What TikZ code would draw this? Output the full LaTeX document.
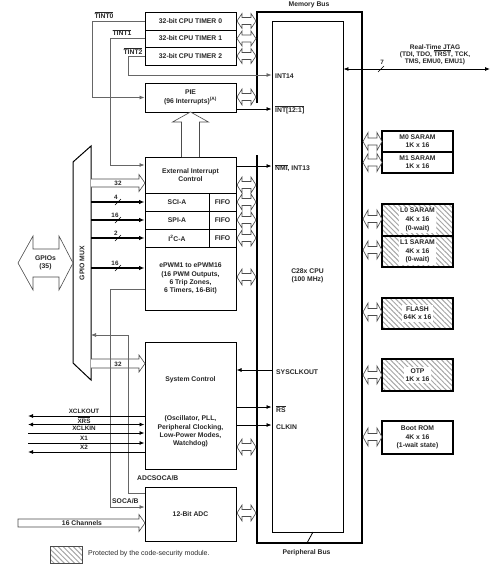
\documentclass[tikz,border=0pt]{standalone}
\usepackage{fontspec}
\setmainfont{Liberation Sans}
\usetikzlibrary{arrows.meta,patterns.meta}
\newcommand\ovl[1]{\ensuremath{\overline{\mbox{#1}}}}
% hollow double arrow: x1 x2 y headhalf
\newcommand\hdarrow[4]{\draw[hollow] (#1,#3) -- (#1+5,#3-#4) -- (#1+5,#3-3.5) -- (#2-5,#3-3.5) -- (#2-5,#3-#4) -- (#2,#3) -- (#2-5,#3+#4) -- (#2-5,#3+3.5) -- (#1+5,#3+3.5) -- (#1+5,#3+#4) -- cycle;}
% hollow single arrow, open tail: x1 x2 y half headhalf
\newcommand\hsarrow[5]{\draw[hollow] (#1,#3-#4) -- (#2-6,#3-#4) -- (#2-6,#3-#5) -- (#2,#3) -- (#2-6,#3+#5) -- (#2-6,#3+#4) -- (#1,#3+#4);}
\begin{document}
\begin{tikzpicture}[x=1pt,y=-1pt,
  every node/.style={font=\bfseries\fontsize{6.8}{8.2}\selectfont, text=black!85, inner sep=0pt},
  box/.style={draw=black, line width=1pt, fill=white, minimum width=91pt},
  mem/.style={draw=black, line width=1.1pt, minimum width=71pt, align=center},
  hatched/.style={pattern={Lines[angle=-45,distance=3.6pt,line width=1pt]}, pattern color=black!35},
  hollow/.style={draw=black!70, line width=0.6pt, fill=white},
  gline/.style={draw=black!60, line width=0.7pt},
  arr/.style={-{Latex[length=5pt,width=4pt]}},
  sig/.style={draw=black, line width=0.8pt, -{Latex[length=5pt,width=4pt]}},
  thk/.style={draw=black, line width=1.3pt, -{Latex[length=5.5pt,width=4.5pt]}},
  busline/.style={draw=black, line width=1.8pt},
  small/.style={font=\bfseries\fontsize{6.3}{7}\selectfont},
]
\useasboundingbox (0,0) rectangle (500,565);

% ---- bus frame and CPU
\draw[busline] (257,103) -- (257,12) -- (362,12) -- (362,543) -- (257,543) -- (257,155);
\draw[line width=0.8pt] (307,543) -- (313,532);
\node (membus) at (309,5) {Memory Bus};
\node (perbus) at (306.5,553) {Peripheral Bus};
\node[draw=black, line width=0.9pt, minimum width=71pt, minimum height=511pt] (cpu) at (307.5,276.5) {};
\node[align=center] (cpulbl) at (307.5,276) {C28x CPU\\(100 MHz)};
\node[anchor=west] (int14) at (275,76) {INT14};
\node[anchor=west] (int121) at (275,110) {\ovl{INT[12:1]}};
\node[anchor=west] (nmi) at (275,168) {\ovl{NMI}, INT13};
\node[anchor=west] (sysclk) at (276,372) {SYSCLKOUT};
\node[anchor=west] (rs) at (276,409) {\ovl{RS}};
\node[anchor=west] (clkin) at (276,427) {CLKIN};

% ---- peripherals
\node[box, minimum height=18pt] (t0) at (190.5,21) {32-bit CPU TIMER 0};
\node[box, minimum height=17pt] (t1) at (190.5,38.5) {32-bit CPU TIMER 1};
\node[box, minimum height=18pt] (t2) at (190.5,56) {32-bit CPU TIMER 2};
\node[box, minimum height=29pt, align=center] (pie) at (190.5,97.5) {PIE\\[0.8pt](96 Interrupts)\textsuperscript{(A)}};
\node[box, minimum height=36pt, align=center] (eic) at (190.5,175) {External Interrupt\\Control};
\node[box, minimum width=64pt, minimum height=18pt] (sci) at (177,202) {SCI-A};
\node[box, minimum width=27pt, minimum height=18pt] (fifo1) at (222.5,202) {FIFO};
\node[box, minimum width=64pt, minimum height=18pt] (spi) at (177,220) {SPI-A};
\node[box, minimum width=27pt, minimum height=18pt] (fifo2) at (222.5,220) {FIFO};
\node[box, minimum width=64pt, minimum height=18pt] (i2c) at (177,238) {I\textsuperscript{2}C-A};
\node[box, minimum width=27pt, minimum height=18pt] (fifo3) at (222.5,238) {FIFO};
\node[box, minimum height=63pt, align=center] (epwm) at (190.5,278.5) {ePWM1 to ePWM16\\(16 PWM Outputs,\\6 Trip Zones,\\6 Timers, 16-Bit)};
\node[box, minimum height=127pt] (sys) at (190.5,405.5) {};
\node (systitle) at (190.5,380) {System Control};
\node[align=center] (sysdesc) at (190.5,431.5) {(Oscillator, PLL,\\Peripheral Clocking,\\Low-Power Modes,\\Watchdog)};
\node[box, minimum height=54pt] (adc) at (190.5,514) {12-Bit ADC};

% ---- PIE hollow up arrow
\draw[hollow] (181.5,157) -- (181.5,122) -- (172.5,122) -- (190.5,112) -- (208.5,122) -- (199.5,122) -- (199.5,157);

% ---- bus double arrows (left)
\hdarrow{237}{256}{21}{7.5}
\hdarrow{237}{256}{38.5}{7.5}
\hdarrow{237}{256}{56}{7.5}
\hdarrow{237}{256}{97}{8}
\hdarrow{237}{256}{185}{8}
\hdarrow{237}{256}{202}{8}
\hdarrow{237}{256}{220}{8}
\hdarrow{237}{256}{238}{8}
\hdarrow{237}{256}{277}{8}
\hdarrow{237}{256}{447}{8}
\hdarrow{237}{256}{513}{8}

% ---- memories
\node[mem, minimum height=21pt] (m0) at (417.5,141.5) {M0 SARAM\\1K x 16};
\node[mem, minimum height=21pt] (m1) at (417.5,162.5) {M1 SARAM\\1K x 16};
\node[mem, hatched, minimum height=32pt] (l0) at (417.5,220) {};
\node[fill=white, inner sep=1.5pt, align=center, font=\bfseries\fontsize{6.8}{8.8}\selectfont] (l0t) at (l0) {L0 SARAM\\4K x 16\\(0-wait)};
\node[mem, hatched, minimum height=31pt] (l1) at (417.5,251.5) {};
\node[fill=white, inner sep=1.5pt, align=center, font=\bfseries\fontsize{6.8}{8.8}\selectfont] (l1t) at (l1) {L1 SARAM\\4K x 16\\(0-wait)};
\node[mem, hatched, minimum height=31pt] (flash) at (417.5,313.5) {};
\node[fill=white, inner sep=1.5pt, align=center] (flasht) at (flash) {FLASH\\64K x 16};
\node[mem, hatched, minimum height=32pt] (otp) at (417.5,375) {};
\node[fill=white, inner sep=1.5pt, align=center] (otpt) at (otp) {OTP\\1K x 16};
\node[mem, minimum height=33pt, font=\bfseries\fontsize{6.8}{8.8}\selectfont] (brom) at (417.5,437.5) {Boot ROM\\4K x 16\\(1-wait state)};

\hdarrow{363}{382}{141.5}{9}
\hdarrow{363}{382}{162.5}{9}
\hdarrow{363}{382}{219}{9}
\hdarrow{363}{382}{250}{9}
\hdarrow{363}{382}{312}{9}
\hdarrow{363}{382}{375}{9}
\hdarrow{363}{382}{437}{9}

% ---- JTAG
\coordinate (jtagE) at (490,69);
\draw[sig,{Latex[length=5pt,width=4pt]}-{Latex[length=5pt,width=4pt]}] (cpu.east |- 0,69) -- (jtagE);
\draw[line width=0.6pt] (378,72) -- (384,66);
\node[small] (seven) at (382,62.5) {7};
\node[align=center, font=\bfseries\fontsize{6.6}{7.2}\selectfont] (jtag) at (435,55) {Real-Time JTAG\\(TDI, TDO, \ovl{TRST}, TCK,\\TMS, EMU0, EMU1)};

% ---- interrupt connectors
\draw[gline,arr] (t0.west) -- (92,21) |- (pie.west);
\draw[gline,arr] (t1.west) -- (110,38.5) |- (eic.west |- 0,165);
\draw[gline,arr] (t2.west) -- (128,56) |- (cpu.west |- 0,75);
\node (tint0) at (104,15) {\ovl{TINT0}};
\node (tint1) at (122,32.5) {\ovl{TINT1}};
\node (tint2) at (133,51) {\ovl{TINT2}};
\draw[sig] (pie.east |- 0,109) -- (cpu.west |- 0,109);
\draw[sig] (eic.east |- 0,166) -- (cpu.west |- 0,166);

% ---- GPIO MUX
\draw[line width=1pt] (73,162) -- (91,146) -- (91,380) -- (73,363) -- cycle;
\node[rotate=90] (muxlbl) at (82,263) {GPIO MUX};
\coordinate (muxR) at (91,263);
\draw[hollow] (18,263) -- (33,236) -- (33,249) -- (59,249) -- (59,236) -- (73,263) -- (59,290) -- (59,277) -- (33,277) -- (33,290) -- cycle;
\node[align=center] (gpios) at (45.5,263) {GPIOs\\(35)};

\hsarrow{91}{145}{183}{4}{8.5}
\node[small] (b32a) at (118,183.5) {32};
\draw[thk] (muxR |- sci.west) -- (sci.west);
\draw[thk] (muxR |- spi.west) -- (spi.west);
\draw[thk] (muxR |- i2c.west) -- (i2c.west);
\draw[thk] (muxR |- 0,268) -- (epwm.west |- 0,268);
\draw[line width=0.6pt] (115,205) -- (121,199);
\draw[line width=0.6pt] (115,223) -- (121,217);
\draw[line width=0.6pt] (115,241) -- (121,235);
\draw[line width=0.6pt] (115,271) -- (121,265);
\node[small] (n4) at (116,197) {4};
\node[small] (n16a) at (115,215) {16};
\node[small] (n2) at (116,233) {2};
\node[small] (n16b) at (115,263) {16};

\hsarrow{91}{145}{363.5}{4.5}{8.5}
\node[small] (b32b) at (118,364) {32};

% ---- SOC lines
\draw[gline,arr] (epwm.west |- 0,289) -- (110,289) |- (adc.west |- 0,507);
\draw[gline,arr] (adc.west |- 0,493) -- (128,493) |- (muxR |- 0,335);
\node[anchor=west] (socal) at (112,501) {SOCA/B};
\node[anchor=west] (adcsocal) at (137,478) {ADCSOCA/B};

% ---- system control signals
\draw[sig] (cpu.west |- 0,370) -- (sys.east |- 0,370);
\draw[sig] (sys.east |- 0,407) -- (cpu.west |- 0,407);
\draw[sig] (sys.east |- 0,425) -- (cpu.west |- 0,425);
\coordinate (xclkoutE) at (28,416);
\coordinate (xrsE) at (28,424.5);
\coordinate (xclkinE) at (28,433);
\coordinate (xoneE) at (28,443);
\coordinate (xtwoE) at (28,452);
\draw[sig] (sys.west |- 0,416) -- (xclkoutE);
\draw[sig,{Latex[length=5pt,width=4pt]}-{Latex[length=5pt,width=4pt]}] (xrsE) -- (sys.west |- 0,424.5);
\draw[sig] (xclkinE) -- (sys.west |- 0,433);
\draw[sig] (xoneE) -- (sys.west |- 0,443);
\draw[sig] (sys.west |- 0,452) -- (xtwoE);
\node[small] (lxclkout) at (84,411) {XCLKOUT};
\node[small] (lxrs) at (84,420) {\ovl{XRS}};
\node[small] (lxclkin) at (84,428.5) {XCLKIN};
\node[small] (lxone) at (84,438) {X1};
\node[small] (lxtwo) at (84,447) {X2};

% ---- 16 channels
\draw[hollow] (18,519) -- (139,519) -- (139,514.5) -- (145,523) -- (139,531.5) -- (139,527) -- (18,527) -- cycle;
\node (chan) at (82,523.5) {16 Channels};

% ---- legend
\node[draw=black!70, line width=0.8pt, hatched, minimum width=32pt, minimum height=17pt] (leg) at (66,554.5) {};
\node[anchor=west, font=\fontsize{7}{8}\selectfont] (legt) at (88,554) {Protected by the code-security module.};
\end{tikzpicture}
\end{document}
